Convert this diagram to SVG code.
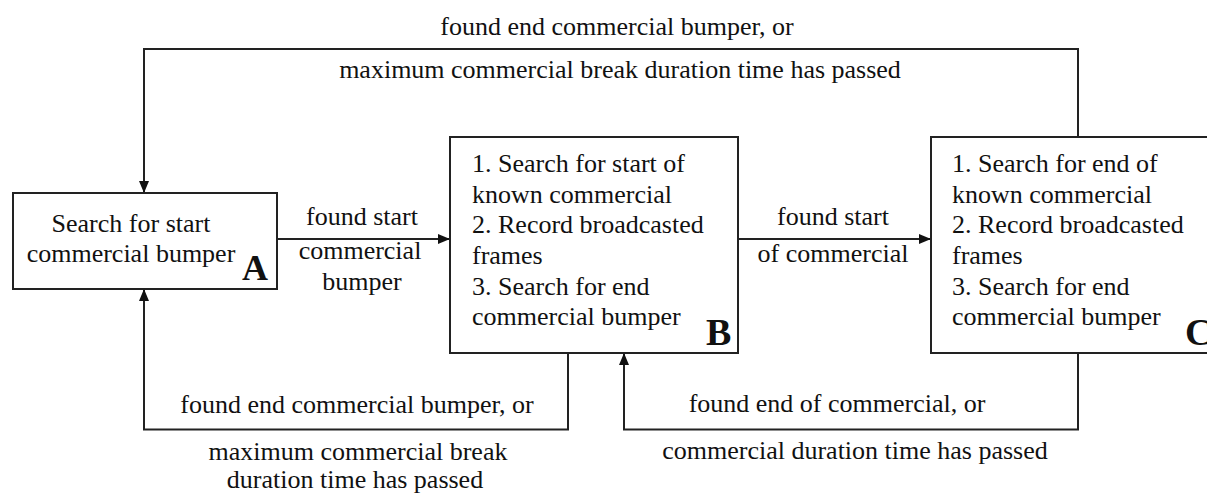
<svg xmlns="http://www.w3.org/2000/svg" width="1207" height="493" viewBox="0 0 1207 493">
<style>
.box{fill:#fff;stroke:#222;stroke-width:2}
.ln{fill:none;stroke:#222;stroke-width:2}
text{font-family:"Liberation Serif","Times New Roman",serif;font-size:26px;fill:#111}
.mid{text-anchor:middle}
.big{font-weight:bold;font-size:38px}
</style>
<defs>
<marker id="ah" markerUnits="userSpaceOnUse" markerWidth="12" markerHeight="12" viewBox="0 0 12 12" refX="12" refY="6" orient="auto">
<path d="M0,1 L12,6 L0,11 Z" fill="#111"/>
</marker>
</defs>
<rect width="1207" height="493" fill="#fff"/>
<g id="connectors">
<path class="ln" d="M277,239 H450" marker-end="url(#ah)"/>
<path class="ln" d="M738,239 H931" marker-end="url(#ah)"/>
<path class="ln" d="M1078,137 V49 H144 V193" marker-end="url(#ah)"/>
<path class="ln" d="M568,353 V429.5 H144 V289" marker-end="url(#ah)"/>
<path class="ln" d="M1078,353 V429.5 H624 V353" marker-end="url(#ah)"/>
<text class="mid" x="617" y="35">found end commercial bumper, or</text>
<text class="mid" x="620" y="78">maximum commercial break duration time has passed</text>
<text class="mid" x="362" y="225">found start</text>
<text class="mid" x="360" y="259">commercial</text>
<text class="mid" x="362" y="290">bumper</text>
<text class="mid" x="833" y="225">found start</text>
<text class="mid" x="833" y="262">of commercial</text>
<text class="mid" x="357" y="413">found end commercial bumper, or</text>
<text class="mid" x="358" y="460">maximum commercial break</text>
<text class="mid" x="355" y="488">duration time has passed</text>
<text class="mid" x="837" y="412">found end of commercial, or</text>
<text class="mid" x="855" y="459">commercial duration time has passed</text>
</g>
<g id="nodeA">
<rect class="box" x="13" y="193" width="264" height="96"/>
<text class="mid" x="131" y="232">Search for start</text>
<text class="mid" x="131" y="262">commercial bumper</text>
<text class="big" x="242" y="280" style="font-size:36px">A</text>
</g>
<g id="nodeB">
<rect class="box" x="450" y="137" width="288" height="216"/>
<text x="472" y="172">1. Search for start of</text>
<text x="472" y="203">known commercial</text>
<text x="472" y="233">2. Record broadcasted</text>
<text x="472" y="264">frames</text>
<text x="472" y="295">3. Search for end</text>
<text x="472" y="325">commercial bumper</text>
<text class="big" x="706" y="345">B</text>
</g>
<g id="nodeC">
<rect class="box" x="931" y="137" width="300" height="216"/>
<text x="952" y="172">1. Search for end of</text>
<text x="952" y="203">known commercial</text>
<text x="952" y="233">2. Record broadcasted</text>
<text x="952" y="264">frames</text>
<text x="952" y="295">3. Search for end</text>
<text x="952" y="325">commercial bumper</text>
<text class="big" x="1185" y="345">C</text>
</g>
</svg>
